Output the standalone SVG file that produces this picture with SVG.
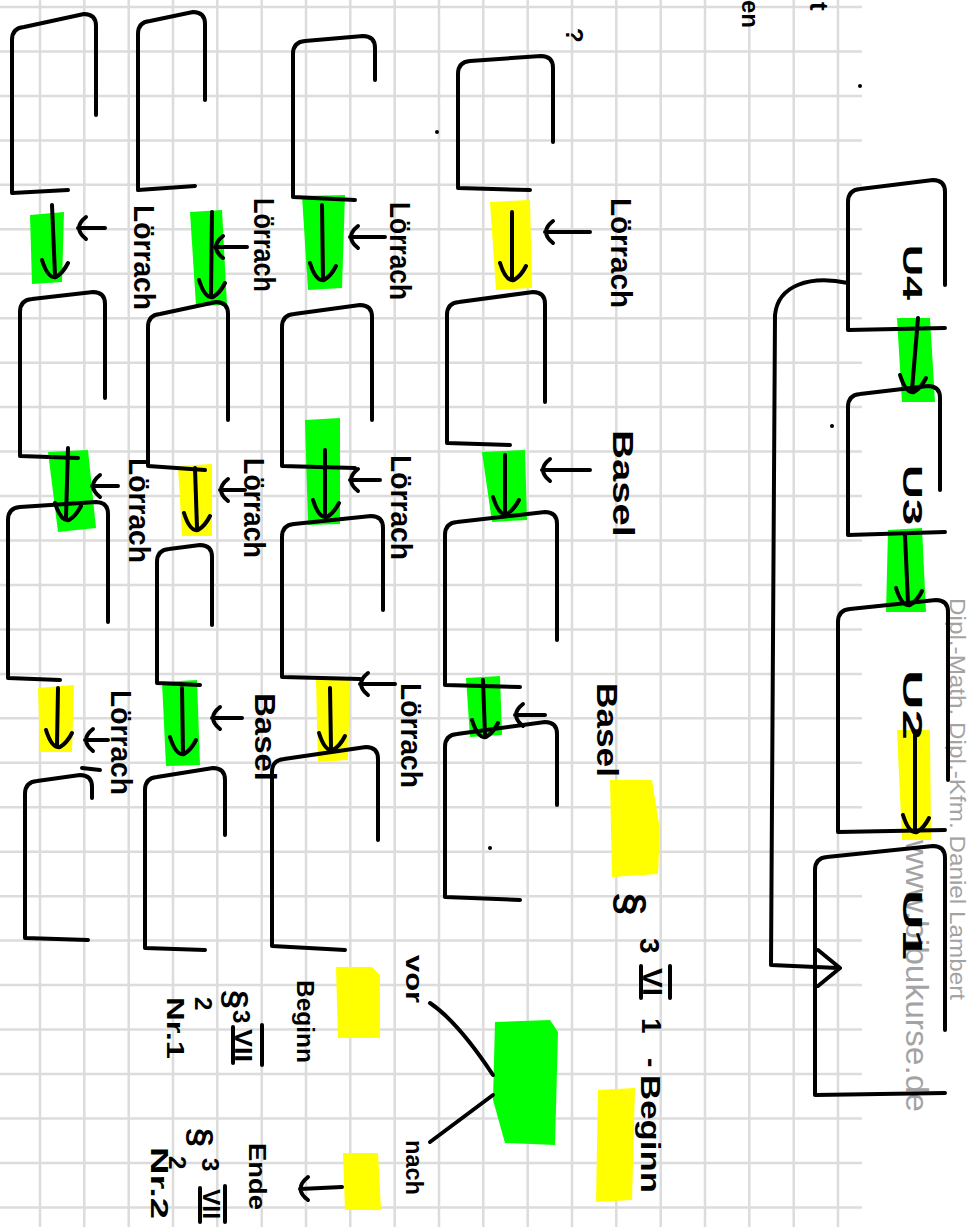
<svg xmlns="http://www.w3.org/2000/svg" width="971" height="1227" viewBox="0 0 971 1227">
<style>
.grid line{stroke:#dcdcdc;stroke-width:2.5}
.ink{fill:none;stroke:#000;stroke-width:4;stroke-linecap:round;stroke-linejoin:round}
.g{fill:#00ff00}
.y{fill:#ffff00}
.t{font-family:"Liberation Sans",Arial,sans-serif;font-weight:bold;fill:#000}
.wm{font-family:"Liberation Sans",Arial,sans-serif;fill:#a3a3a3}
</style>
<rect width="971" height="1227" fill="#fff"/>
<g class="grid">
<line x1="838" y1="0" x2="838" y2="1227"/><line x1="793.7" y1="0" x2="793.7" y2="1227"/><line x1="749.3" y1="0" x2="749.3" y2="1227"/><line x1="705" y1="0" x2="705" y2="1227"/><line x1="660.7" y1="0" x2="660.7" y2="1227"/><line x1="616.3" y1="0" x2="616.3" y2="1227"/><line x1="572" y1="0" x2="572" y2="1227"/><line x1="527.7" y1="0" x2="527.7" y2="1227"/><line x1="483.3" y1="0" x2="483.3" y2="1227"/><line x1="439" y1="0" x2="439" y2="1227"/><line x1="394.7" y1="0" x2="394.7" y2="1227"/><line x1="350.3" y1="0" x2="350.3" y2="1227"/><line x1="306" y1="0" x2="306" y2="1227"/><line x1="261.7" y1="0" x2="261.7" y2="1227"/><line x1="217.3" y1="0" x2="217.3" y2="1227"/><line x1="173" y1="0" x2="173" y2="1227"/><line x1="128.7" y1="0" x2="128.7" y2="1227"/><line x1="84.3" y1="0" x2="84.3" y2="1227"/><line x1="40" y1="0" x2="40" y2="1227"/>
<line x1="0" y1="7" x2="862" y2="7"/><line x1="0" y1="51.5" x2="862" y2="51.5"/><line x1="0" y1="96" x2="862" y2="96"/><line x1="0" y1="140.4" x2="862" y2="140.4"/><line x1="0" y1="184.8" x2="862" y2="184.8"/><line x1="0" y1="229.3" x2="862" y2="229.3"/><line x1="0" y1="273.8" x2="862" y2="273.8"/><line x1="0" y1="318.2" x2="862" y2="318.2"/><line x1="0" y1="362.7" x2="862" y2="362.7"/><line x1="0" y1="407.1" x2="862" y2="407.1"/><line x1="0" y1="451.6" x2="862" y2="451.6"/><line x1="0" y1="496" x2="862" y2="496"/><line x1="0" y1="540.5" x2="862" y2="540.5"/><line x1="0" y1="585" x2="862" y2="585"/><line x1="0" y1="629.4" x2="862" y2="629.4"/><line x1="0" y1="673.9" x2="862" y2="673.9"/><line x1="0" y1="718.3" x2="862" y2="718.3"/><line x1="0" y1="762.8" x2="862" y2="762.8"/><line x1="0" y1="807.2" x2="862" y2="807.2"/><line x1="0" y1="851.7" x2="862" y2="851.7"/><line x1="0" y1="896.2" x2="862" y2="896.2"/><line x1="0" y1="940.6" x2="862" y2="940.6"/><line x1="0" y1="985.1" x2="862" y2="985.1"/><line x1="0" y1="1029.5" x2="862" y2="1029.5"/><line x1="0" y1="1074" x2="862" y2="1074"/><line x1="0" y1="1118.5" x2="862" y2="1118.5"/><line x1="0" y1="1162.9" x2="862" y2="1162.9"/><line x1="0" y1="1207.4" x2="862" y2="1207.4"/>
</g>
<g id="highlights">
<polygon class="g" points="30,215 64,212 62,282 32,284"/>
<polygon class="g" points="48,452 88,450 96,528 58,532"/>
<polygon class="y" points="38,688 74,685 72,752 40,752"/>
<polygon class="g" points="190,212 222,210 227,305 196,306"/>
<polygon class="y" points="178,466 212,464 212,536 182,536"/>
<polygon class="g" points="162,682 197,680 200,765 166,766"/>
<polygon class="g" points="302,196 345,195 342,288 308,290"/>
<polygon class="g" points="305,420 340,418 340,524 308,525"/>
<polygon class="y" points="316,680 350,680 348,760 318,762"/>
<polygon class="y" points="490,202 530,200 532,288 496,290"/>
<polygon class="g" points="482,452 525,450 527,520 492,522"/>
<polygon class="g" points="466,678 500,676 502,735 470,737"/>
<polygon class="g" points="897,318 930,318 935,402 902,402"/>
<polygon class="g" points="888,530 922,528 926,612 886,612"/>
<polygon class="y" points="897,730 930,730 931,840 902,840"/>
<polygon class="y" points="610,780 652,780 660,830 658,874 612,877"/>
<polygon class="g" points="495,1022 550,1020 558,1032 555,1145 505,1143 493,1100"/>
<polygon class="y" points="336,967 372,967 380,975 380,1038 338,1038"/>
<polygon class="y" points="343,1153 378,1153 381,1210 345,1210"/>
<polygon class="y" points="598,1090 635,1088 632,1200 596,1202"/>
</g>
<g id="watermark">
<text class="wm" font-size="22" transform="translate(950,598) rotate(90)" textLength="402" lengthAdjust="spacingAndGlyphs">Dipl.-Math. Dipl.-Kfm. Daniel Lambert</text>
<text class="wm" font-size="32" transform="translate(906,840) rotate(90)" textLength="272" lengthAdjust="spacingAndGlyphs">www.bibukurse.de</text>
</g>
<g id="boxA1"><path class="ink" d="M12,193 L12,40 Q12,28 24,27 L84,14 Q96,14 96,26 L96,115 M12,193 L68,190"/></g>
<g id="boxA2"><path class="ink" d="M20,456 L20,312 Q20,300 32,299 L93,292 Q105,292 105,304 L105,398 M20,456 L78,458"/></g>
<g id="boxA3"><path class="ink" d="M8,678 L8,520 Q8,508 20,507 L96,502 Q108,502 108,514 L108,622 M8,678 L60,680"/></g>
<g id="boxA4"><path class="ink" d="M25,938 L25,794 Q25,782 37,781 L80,775 Q92,775 92,787 L92,798 M82,768 L100,770 M25,938 L88,940"/></g>
<g id="boxB1"><path class="ink" d="M138,190 L138,34 Q138,22 150,21 L193,12 Q205,12 205,24 L205,100 M138,190 L195,186"/></g>
<g id="boxB2"><path class="ink" d="M148,466 L148,327 Q148,315 160,314 L216,302 Q228,302 228,314 L228,420 M148,466 L205,470"/></g>
<g id="boxB3"><path class="ink" d="M157,683 L157,562 Q157,550 169,549 L200,545 Q212,545 212,557 L212,625 M157,683 L200,685"/></g>
<g id="boxB4"><path class="ink" d="M145,948 L145,790 Q145,778 157,777 L213,768 Q225,768 225,780 L225,835 M145,948 L205,950"/></g>
<g id="boxC1"><path class="ink" d="M293,197 L293,54 Q293,42 305,41 L363,36 Q375,36 375,48 L375,80 M293,197 L355,200"/></g>
<g id="boxC2"><path class="ink" d="M282,466 L282,327 Q282,315 294,314 L360,305 Q372,305 372,317 L372,420 M282,466 L355,468"/></g>
<g id="boxC3"><path class="ink" d="M282,677 L282,537 Q282,525 294,524 L371,516 Q383,516 383,528 L383,610 M282,677 L360,679"/></g>
<g id="boxC4"><path class="ink" d="M272,946 L272,772 Q272,760 284,759 L366,747 Q378,747 378,759 L378,840 M272,946 L345,950"/></g>
<g id="boxD1"><path class="ink" d="M458,188 L458,74 Q458,62 470,61 L541,56 Q553,56 553,68 L553,142 M458,188 L530,190"/></g>
<g id="boxD2"><path class="ink" d="M447,443 L447,315 Q447,303 459,302 L533,292 Q545,292 545,304 L545,402 M447,443 L510,445"/></g>
<g id="boxD3"><path class="ink" d="M445,685 L445,535 Q445,523 457,522 L545,512 Q557,512 557,524 L557,640 M445,685 L520,687"/></g>
<g id="boxD4"><path class="ink" d="M445,897 L445,747 Q445,735 457,734 L545,722 Q557,722 557,734 L557,805 M445,897 L520,900"/></g>
<g id="boxU4"><path class="ink" d="M848,330 L848,202 Q848,190 860,189 L933,180 Q945,180 945,192 L945,285 M848,330 L945,328"/>
<text class="t" font-size="28" transform="translate(903,245) rotate(90)" textLength="55" lengthAdjust="spacingAndGlyphs">U4</text></g>
<g id="boxU3"><path class="ink" d="M848,535 L848,407 Q848,395 860,394 L928,386 Q940,386 940,398 L940,490 M848,535 L945,532"/>
<text class="t" font-size="28" transform="translate(903,465) rotate(90)" textLength="60" lengthAdjust="spacingAndGlyphs">U3</text></g>
<g id="boxU2"><path class="ink" d="M838,832 L838,622 Q838,610 850,609 L936,600 Q948,600 948,612 L948,780 M838,832 L945,830"/>
<text class="t" font-size="28" transform="translate(903,670) rotate(90)" textLength="70" lengthAdjust="spacingAndGlyphs">U2</text></g>
<g id="boxU1"><path class="ink" d="M815,1095 L815,870 Q815,858 827,857 L933,846 Q945,846 945,858 L945,1030 M815,1095 L945,1093"/>
<text class="t" font-size="28" transform="translate(903,890) rotate(90)" textLength="70" lengthAdjust="spacingAndGlyphs">U1</text></g>
<g id="connectors">
<path class="ink" d="M52,205 L55,275 M42,260 Q48,279 56,277 Q63,273 68,263"/>
<path class="ink" d="M68,448 L66,518 M55,503 Q61,522 69,520 Q76,516 81,506"/>
<path class="ink" d="M58,688 L57,745 M46,730 Q52,749 60,747 Q67,743 72,733"/>
<path class="ink" d="M212,212 L211,295 M199,280 Q205,299 213,297 Q220,293 225,283"/>
<path class="ink" d="M195,468 L197,528 M184,513 Q190,532 198,530 Q205,526 210,516"/>
<path class="ink" d="M182,688 L183,752 M170,737 Q176,756 184,754 Q191,750 196,740"/>
<path class="ink" d="M322,205 L323,278 M310,263 Q316,282 324,280 Q331,276 336,266"/>
<path class="ink" d="M325,450 L325,515 M313,500 Q319,519 327,517 Q334,513 339,503"/>
<path class="ink" d="M330,688 L331,748 M319,733 Q325,752 333,750 Q340,746 345,736"/>
<path class="ink" d="M512,212 L512,278 M500,263 Q506,282 514,280 Q521,276 526,266"/>
<path class="ink" d="M505,455 L505,512 M493,497 Q499,516 507,514 Q514,510 519,500"/>
<path class="ink" d="M483,680 L485,735 M472,720 Q478,739 486,737 Q493,733 498,723"/>
<path class="ink" d="M918,318 L912,390 M900,375 Q906,394 914,392 Q921,388 926,378"/>
<path class="ink" d="M905,535 L908,603 M896,588 Q902,607 910,605 Q917,601 922,591"/>
<path class="ink" d="M915,735 L915,830 M903,815 Q909,834 917,832 Q924,828 929,818"/>
<path class="ink" d="M105,228 L78,228 M86,217 Q72,228 86,239"/>
<path class="ink" d="M118,486 L92,486 M100,475 Q86,486 100,497"/>
<path class="ink" d="M108,740 L85,740 M93,729 Q79,740 93,751"/>
<path class="ink" d="M247,247 L215,247 M223,236 Q209,247 223,258"/>
<path class="ink" d="M245,490 L220,490 M228,479 Q214,490 228,501"/>
<path class="ink" d="M242,718 L212,718 M220,707 Q206,718 220,729"/>
<path class="ink" d="M385,237 L350,237 M358,226 Q344,237 358,248"/>
<path class="ink" d="M380,480 L350,480 M358,469 Q344,480 358,491"/>
<path class="ink" d="M395,684 L360,684 M368,673 Q354,684 368,695"/>
<path class="ink" d="M590,232 L545,232 M553,221 Q539,232 553,243"/>
<path class="ink" d="M590,470 L542,470 M550,459 Q536,470 550,481"/>
<path class="ink" d="M545,715 L515,715 M523,704 Q509,715 523,726"/>
<path class="ink" d="M848,283 C810,275 778,285 775,315 L771,965 L838,968 M818,950 L840,968 L818,986"/>
<path class="ink" d="M430,1003 Q458,1022 493,1075"/>
<path class="ink" d="M430,1142 Q462,1118 493,1095"/>
<path class="ink" d="M342,1187 L300,1189 M308,1177 Q293,1189 308,1200"/>
</g>
<g id="labels">
<text class="t" font-size="30" transform="translate(134,205) rotate(90)" textLength="105" lengthAdjust="spacingAndGlyphs">Lörrach</text>
<text class="t" font-size="30" transform="translate(129,458) rotate(90)" textLength="105" lengthAdjust="spacingAndGlyphs">Lörrach</text>
<text class="t" font-size="30" transform="translate(111,690) rotate(90)" textLength="105" lengthAdjust="spacingAndGlyphs">Lörrach</text>
<text class="t" font-size="30" transform="translate(254,198) rotate(90)" textLength="94" lengthAdjust="spacingAndGlyphs">Lörrach</text>
<text class="t" font-size="30" transform="translate(244,458) rotate(90)" textLength="100" lengthAdjust="spacingAndGlyphs">Lörrach</text>
<text class="t" font-size="30" transform="translate(255,693) rotate(90)" textLength="88" lengthAdjust="spacingAndGlyphs">Basel</text>
<text class="t" font-size="30" transform="translate(390,202) rotate(90)" textLength="98" lengthAdjust="spacingAndGlyphs">Lörrach</text>
<text class="t" font-size="30" transform="translate(391,455) rotate(90)" textLength="105" lengthAdjust="spacingAndGlyphs">Lörrach</text>
<text class="t" font-size="30" transform="translate(401,683) rotate(90)" textLength="105" lengthAdjust="spacingAndGlyphs">Lörrach</text>
<text class="t" font-size="30" transform="translate(611,198) rotate(90)" textLength="110" lengthAdjust="spacingAndGlyphs">Lörrach</text>
<text class="t" font-size="30" transform="translate(613,430) rotate(90)" textLength="107" lengthAdjust="spacingAndGlyphs">Basel</text>
<text class="t" font-size="30" transform="translate(597,683) rotate(90)" textLength="94" lengthAdjust="spacingAndGlyphs">Basel</text>
<text class="t" font-size="24" transform="translate(566,28) rotate(90)">?</text>
<text class="t" font-size="24" transform="translate(742,0) rotate(90)">en</text>
<text class="t" font-size="26" transform="translate(810,2) rotate(90)">t</text>
<circle cx="860" cy="86" r="2"/><circle cx="437" cy="132" r="2"/><circle cx="832" cy="426" r="2"/><circle cx="490" cy="848" r="2"/>
</g>
<g id="legend">
<text class="t" font-size="40" transform="translate(618,893) rotate(90)">§</text>
<text class="t" font-size="28" transform="translate(640,938) rotate(90)">3</text>
<text class="t" font-size="28" transform="translate(643,968) rotate(90)" textLength="28" lengthAdjust="spacingAndGlyphs">VI</text>
<path class="ink" d="M641,966 L641,998 M670,966 L670,998"/>
<text class="t" font-size="28" transform="translate(642,1018) rotate(90)">1</text>
<text class="t" font-size="28" transform="translate(642,1058) rotate(90)">-</text>
<text class="t" font-size="28" transform="translate(641,1075) rotate(90)" textLength="118" lengthAdjust="spacingAndGlyphs">Beginn</text>
<text class="t" font-size="24" transform="translate(406,955) rotate(90)" textLength="48" lengthAdjust="spacingAndGlyphs">vor</text>
<text class="t" font-size="24" transform="translate(406,1140) rotate(90)" textLength="55" lengthAdjust="spacingAndGlyphs">nach</text>
<text class="t" font-size="24" transform="translate(297,980) rotate(90)" textLength="83" lengthAdjust="spacingAndGlyphs">Beginn</text>
<text class="t" font-size="34" transform="translate(225,990) rotate(90)">§</text>
<text class="t" font-size="24" transform="translate(233,1010) rotate(90)">3</text>
<text class="t" font-size="24" transform="translate(235,1029) rotate(90)" textLength="33" lengthAdjust="spacingAndGlyphs">VII</text>
<path class="ink" d="M233,1027 L233,1063 M262,1025 L262,1065"/>
<text class="t" font-size="24" transform="translate(195,997) rotate(90)">2</text>
<text class="t" font-size="24" transform="translate(167,997) rotate(90)" textLength="62" lengthAdjust="spacingAndGlyphs">Nr.1</text>
<text class="t" font-size="24" transform="translate(249,1143) rotate(90)" textLength="67" lengthAdjust="spacingAndGlyphs">Ende</text>
<text class="t" font-size="34" transform="translate(190,1128) rotate(90)">§</text>
<text class="t" font-size="24" transform="translate(202,1158) rotate(90)">3</text>
<text class="t" font-size="24" transform="translate(203,1189) rotate(90)" textLength="30" lengthAdjust="spacingAndGlyphs">VII</text>
<path class="ink" d="M200,1188 L200,1222 M225,1186 L225,1222"/>
<text class="t" font-size="24" transform="translate(169,1156) rotate(90)">2</text>
<text class="t" font-size="24" transform="translate(151,1147) rotate(90)" textLength="72" lengthAdjust="spacingAndGlyphs">Nr.2</text>
</g>
</svg>
